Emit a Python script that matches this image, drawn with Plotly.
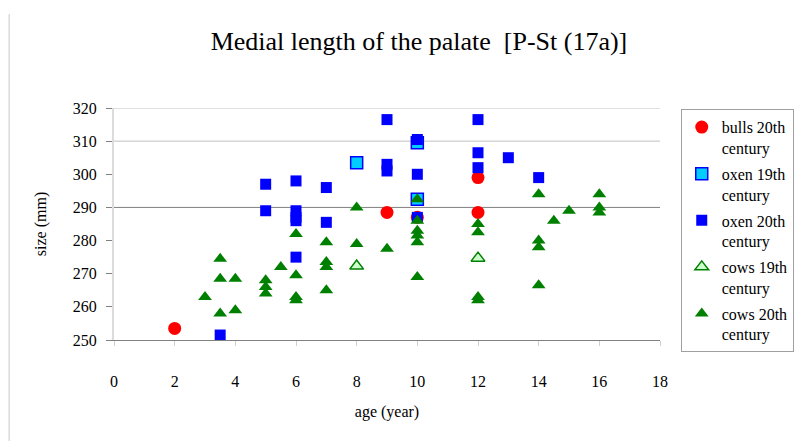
import plotly.graph_objects as go

# data
bulls_20_age = [2, 9, 10, 12, 12]
bulls_20_size = [253.5, 288.5, 287, 299, 288.5]

oxen_19_age = [8, 10, 10]
oxen_19_size = [303.5, 309.5, 292.5]

oxen_20_age = [3.5, 5, 5, 6, 6, 6, 6, 6, 7, 7, 9, 9, 9,
               10, 10, 10, 12, 12, 12, 13, 14]
oxen_20_size = [251.5, 297, 289, 298, 289, 287, 286, 275, 296, 285.5, 316.5, 303, 301,
                310.5, 300, 287, 316.5, 306.5, 302, 305, 299]

cows_19_age = [8, 12]
cows_19_size = [272.3, 274.7]

cows_20_age = [3, 3.5, 3.5, 3.5, 4, 4, 5, 5, 5, 5.5,
               6, 6, 6, 6, 7, 7, 7, 7, 8, 8, 9,
               10, 10, 10, 10, 10, 10, 12, 12, 12, 12,
               14, 14, 14, 14, 14.5, 15, 16, 16, 16]
cows_20_size = [263, 274.5, 268.5, 258, 268.5, 259, 268, 266, 264, 272,
                282, 269.5, 263, 262, 279.5, 273.5, 272, 265, 290, 279, 277.5,
                292.5, 286, 283, 281.5, 279.5, 269, 285, 282.5, 263, 262,
                294, 280, 278, 266.5, 286, 289, 294, 290, 288.5]

x_ticks = list(range(0, 19, 2))
y_ticks = list(range(250, 321, 10))
grid_light = [310, 320]
grid_dark = [290]

FONT = "Liberation Serif"

fig = go.Figure()

fig.add_trace(go.Scatter(
    x=bulls_20_age, y=bulls_20_size, mode="markers",
    name="bulls 20th<br>century", legendgroup="a",
    marker=dict(symbol="circle", size=13, color="#ff0000")
))
fig.add_trace(go.Scatter(
    x=oxen_19_age, y=oxen_19_size, mode="markers",
    name="oxen 19th<br>century", legendgroup="b",
    marker=dict(symbol="square", size=12, color="#00ccff",
                line=dict(color="#0000ff", width=1.5))
))
fig.add_trace(go.Scatter(
    x=oxen_20_age, y=oxen_20_size, mode="markers",
    name="oxen 20th<br>century", legendgroup="c",
    marker=dict(symbol="square", size=11, color="#0000ff")
))
fig.add_trace(go.Scatter(
    x=cows_19_age, y=cows_19_size, mode="markers",
    name="cows 19th<br>century", legendgroup="d",
    marker=dict(symbol="triangle-up", size=12, color="#ccffcc",
                line=dict(color="#008000", width=1.5))
))
fig.add_trace(go.Scatter(
    x=cows_20_age, y=cows_20_size, mode="markers",
    name="cows 20th<br>century", legendgroup="e",
    marker=dict(symbol="triangle-up", size=12, color="#008000")
))

# odd partial gridlines as in the source
for v in grid_light:
    fig.add_shape(type="line", xref="paper", x0=0, x1=1, yref="y", y0=v, y1=v,
                  line=dict(color="#c0c0c0", width=1), layer="below")
for v in grid_dark:
    fig.add_shape(type="line", xref="paper", x0=0, x1=1, yref="y", y0=v, y1=v,
                  line=dict(color="#808080", width=1), layer="below")

# thin frame line on the left edge of the chart area
fig.add_shape(type="line", xref="paper", yref="paper",
              x0=-0.192, x1=-0.192, y0=-0.435, y1=1.405,
              line=dict(color="#c8c8c8", width=1))

# page body has an 8px margin, so the figure is a bit smaller than the window
fig.update_layout(
    width=798, height=433,
    margin=dict(l=106, r=146, t=100, b=101, autoexpand=False),
    paper_bgcolor="white", plot_bgcolor="white",
    font=dict(family=FONT, color="black", size=16),
    title=dict(text="Medial length of the palate  [P-St (17a)]",
               x=0.515, xref="container", xanchor="center",
               y=0.925, yref="container", yanchor="middle",
               font=dict(family=FONT, size=26, color="black")),
    legend=dict(x=1.038, y=0.995, xanchor="left", yanchor="top",
                bordercolor="#a0a0a0", borderwidth=1, bgcolor="white",
                font=dict(family=FONT, size=16, color="black"),
                valign="top", tracegroupgap=2, traceorder="grouped",
                itemwidth=30, maxheight=400),
    showlegend=True,
)

fig.update_xaxes(
    range=[0, 18], tickvals=x_ticks, ticktext=[str(v) for v in x_ticks],
    showgrid=False, zeroline=False, automargin=False,
    showline=True, linecolor="#808080", linewidth=1,
    ticks="outside", ticklen=5, tickcolor="#d0d0d0",
    ticklabelstandoff=22,
    tickfont=dict(family=FONT, size=16, color="black"),
    title=dict(text="age (year)", standoff=16,
               font=dict(family=FONT, size=16, color="black")),
)
fig.update_yaxes(
    range=[250, 320], tickvals=y_ticks, ticktext=[str(v) for v in y_ticks],
    showgrid=False, zeroline=False, automargin=False,
    showline=True, linecolor="#dcdcdc", linewidth=2,
    ticks="outside", ticklen=6, tickcolor="#808080",
    ticklabelstandoff=6,
    tickfont=dict(family=FONT, size=16, color="black"),
    title=dict(text="size (mm)", standoff=22,
               font=dict(family=FONT, size=16, color="black")),
)

fig.write_html("out.html")
